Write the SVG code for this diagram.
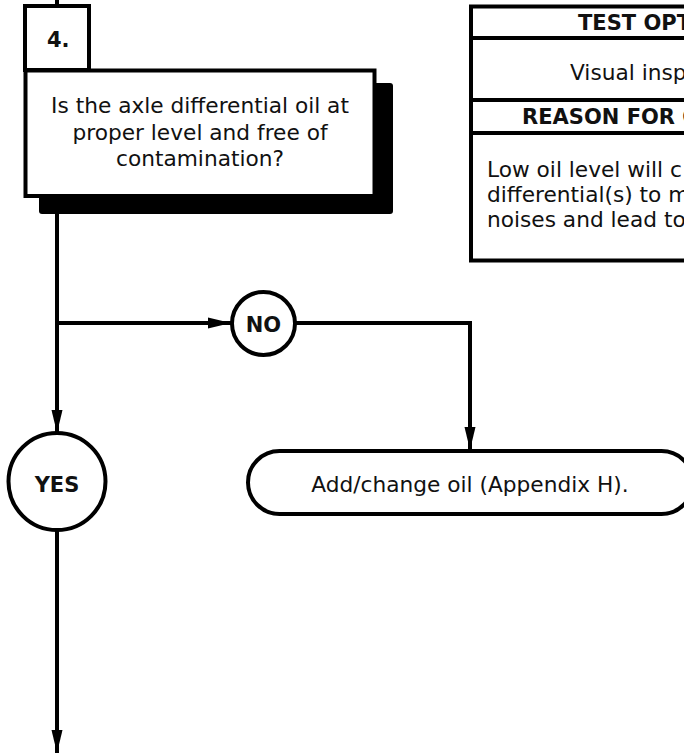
<svg xmlns="http://www.w3.org/2000/svg" width="684" height="753" viewBox="0 0 684 753">
<style>
.t{font-family:"DejaVu Sans","Verdana",sans-serif;font-size:21.7px;fill:#111}
.b{font-family:"DejaVu Sans","Verdana",sans-serif;font-size:21px;font-weight:bold;fill:#111}
.box{fill:#fff;stroke:#000;stroke-width:4}
.ln{fill:none;stroke:#000;stroke-width:4}
</style>
<defs>
<marker id="ah" markerUnits="userSpaceOnUse" markerWidth="24" markerHeight="12" refX="23" refY="6" orient="auto">
<path d="M0,0.5 L23,6 L0,11.5 z" fill="#000"/>
</marker>
</defs>
<rect width="684" height="753" fill="#fff"/>
<g id="connectors">
<line class="ln" x1="57" y1="0" x2="57" y2="6"/>
<line class="ln" x1="57" y1="212" x2="57" y2="433" marker-end="url(#ah)"/>
<polyline class="ln" points="57,323 231,323" marker-end="url(#ah)"/>
<polyline class="ln" points="295,323 470,323 470,450" marker-end="url(#ah)"/>
<line class="ln" x1="57" y1="530" x2="57" y2="753" marker-end="url(#ah)"/>
</g>
<g id="step4">
<rect class="box" x="25" y="6" width="64" height="64"/>
<text class="b" x="47" y="47">4.</text>
<rect x="39" y="83" width="354" height="131" rx="3" fill="#000"/>
<rect class="box" x="25.5" y="70.5" width="349" height="125.5"/>
<text class="t" text-anchor="middle" x="200" y="113">Is the axle differential oil at</text>
<text class="t" text-anchor="middle" x="200" y="140">proper level and free of</text>
<text class="t" text-anchor="middle" x="200" y="166">contamination?</text>
</g>
<g id="info-panel">
<rect class="box" x="471" y="6.5" width="240" height="254"/>
<line class="ln" x1="471" y1="38" x2="684" y2="38"/>
<line class="ln" x1="471" y1="100" x2="684" y2="100"/>
<line class="ln" x1="471" y1="133" x2="684" y2="133"/>
<text class="b" x="578" y="30">TEST OPT</text>
<text class="t" x="570" y="80">Visual insp</text>
<text class="b" x="522" y="124">REASON FOR Q</text>
<text class="t" x="487" y="177">Low oil level will c</text>
<text class="t" x="487" y="202">differential(s) to m</text>
<text class="t" x="487" y="227">noises and lead to</text>
</g>
<g id="no">
<circle class="box" cx="263.5" cy="323.5" r="31.5"/>
<text class="b" text-anchor="middle" x="263.5" y="332">NO</text>
</g>
<g id="yes">
<circle class="box" cx="57" cy="481.5" r="48.5"/>
<text class="b" text-anchor="middle" x="57" y="492">YES</text>
</g>
<g id="add-oil">
<rect class="box" x="248" y="451" width="445" height="63" rx="31.5"/>
<text class="t" text-anchor="middle" x="470" y="492">Add/change oil (Appendix H).</text>
</g>
</svg>
